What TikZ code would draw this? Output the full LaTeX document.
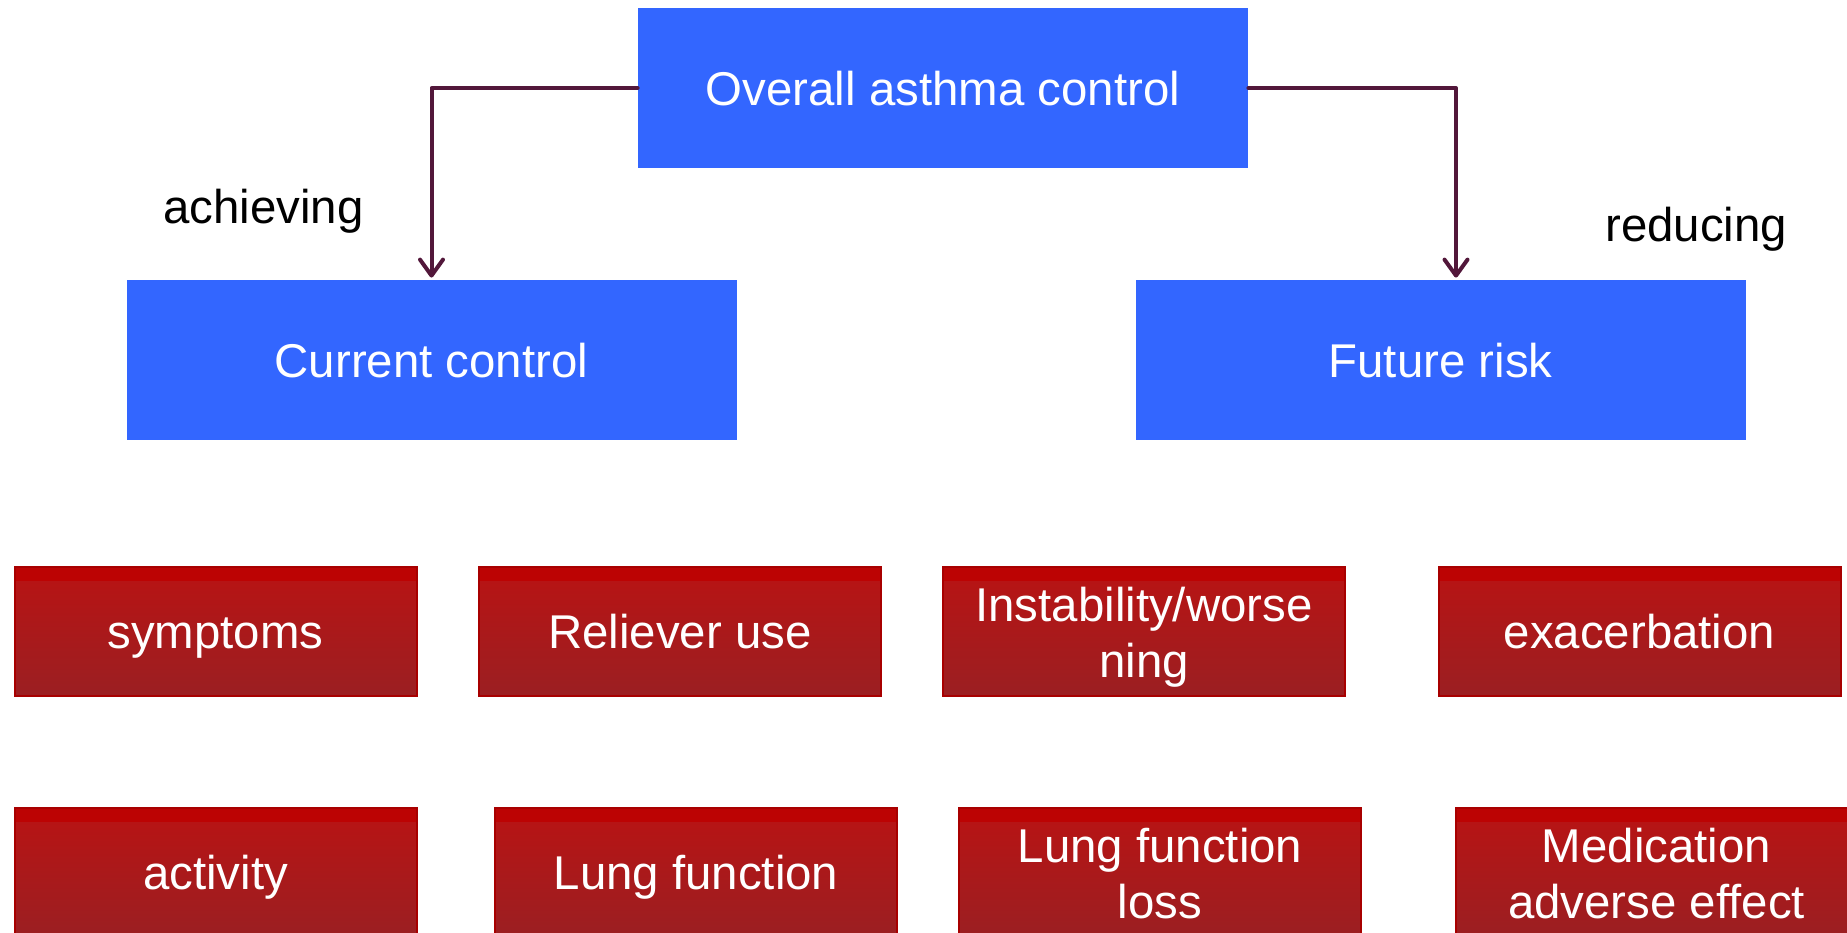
\documentclass[tikz,border=0pt]{standalone}
\usepackage{fontspec}
\setmainfont{Liberation Sans}
\usetikzlibrary{arrows.meta}

\definecolor{boxblue}{HTML}{3366FF}
\definecolor{redband}{HTML}{BC0303}
\definecolor{redtopc}{HTML}{B91313}
\definecolor{redbotc}{HTML}{9B1F22}
\definecolor{rededge}{HTML}{A80000}
\definecolor{linkcol}{HTML}{52173A}

% two centred lines whose baseline is the first line
\newcommand{\twolines}[2]{\begin{tabular}[t]{@{}c@{}}#1\\#2\end{tabular}}

\tikzset{
  txt/.style={font=\fontsize{23.7}{28}\selectfont, inner sep=0pt},
  bluebox/.style={txt, rectangle, fill=boxblue, text=white,
    minimum width=305pt, minimum height=80pt,
    text height=17pt, text depth=0pt},
  redbox/.style={txt, rectangle, draw=rededge, line width=1pt,
    top color=redtopc, bottom color=redbotc, text=white,
    minimum width=201pt, minimum height=64.5pt,
    text height=17pt, text depth=0pt,
    path picture={\fill[redband] (path picture bounding box.north west)
      rectangle ([yshift=-7pt]path picture bounding box.north east);}},
  redbox2/.style={redbox, text depth=27pt},
  label/.style={txt, text=black, anchor=base west},
  conn/.style={draw=linkcol, line width=2pt, line cap=round, line join=round,
    -{Straight Barb[round, length=8pt, width=11.5pt]}, shorten >=1pt}
}

\begin{document}
\begin{tikzpicture}[x=0.5pt, y=-0.5pt]
  \useasboundingbox (0,0) rectangle (1847,932);

  % top level and the two aims
  \node[bluebox] (top) at (943,88) {Overall asthma control};
  \node[bluebox] (cur) at (431.5,360) {Current control};
  \node[bluebox] (fut) at (1440.5,360) {Future risk};

  \node[label] (ach) at (163,223) {achieving};
  \node[label] (red) at (1605,241) {reducing};

  \draw[conn] (top.west) -| (cur.north);
  \draw[conn] (top.east) -| ([xshift=7.75pt]fut.north);

  % measures, first row
  \node[redbox]  (sym) at (215.5,631.5) {symptoms};
  \node[redbox]  (rel) at (680,631.5) {Reliever use};
  \node[redbox2] (ins) at (1144,631.5) {\twolines{Instability/worse}{ning}};
  \node[redbox]  (exa) at (1639.5,631.5) {exacerbation};

  % measures, second row
  \node[redbox]  (act) at (215.5,872.5) {activity};
  \node[redbox]  (lfn) at (696,872.5) {Lung function};
  \node[redbox2] (lfl) at (1160,872.5) {\twolines{Lung function}{loss}};
  \node[redbox2] (med) at (1656.5,872.5) {\twolines{Medication}{adverse effect}};
\end{tikzpicture}
\end{document}
